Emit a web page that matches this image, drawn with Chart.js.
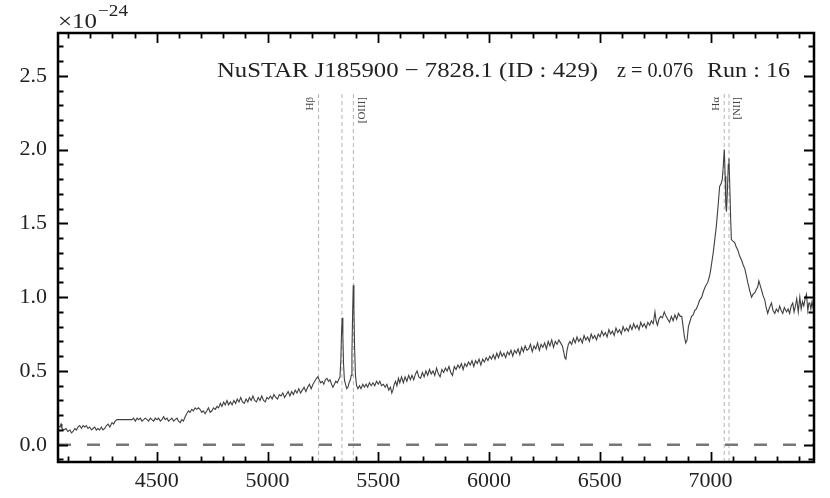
<!DOCTYPE html>
<html>
<head>
<meta charset="utf-8">
<script src="https://cdn.jsdelivr.net/npm/chart.js@4.4.1/dist/chart.umd.min.js"></script>
<style>
  html, body { margin: 0; padding: 0; background: #fff; }
</style>
</head>
<body>
<canvas id="spec" width="830" height="498"></canvas>
<script>
const wavelength = [
  4055, 4063, 4068, 4072, 4080, 4090, 4098, 4108, 4115, 4122, 4130, 4137, 4144, 4152, 4160, 4167,
  4175, 4182, 4189, 4197, 4205, 4212, 4220, 4227, 4234, 4242, 4250, 4257, 4265, 4273, 4280, 4288,
  4298, 4305, 4312, 4320, 4388, 4395, 4403, 4411, 4418, 4426, 4433, 4441, 4448, 4456, 4463, 4471,
  4478, 4486, 4493, 4501, 4508, 4516, 4523, 4531, 4538, 4546, 4553, 4561, 4568, 4576, 4583, 4591,
  4598, 4606, 4613, 4620, 4628, 4635, 4643, 4650, 4658, 4665, 4673, 4680, 4688, 4695, 4703, 4710,
  4718, 4726, 4733, 4741, 4749, 4756, 4764, 4772, 4779, 4787, 4794, 4802, 4809, 4817, 4824, 4832,
  4840, 4848, 4856, 4863, 4871, 4879, 4887, 4895, 4903, 4911, 4918, 4926, 4934, 4942, 4950, 4958,
  4966, 4974, 4982, 4990, 4997, 5005, 5013, 5021, 5029, 5037, 5045, 5053, 5061, 5069, 5077, 5085,
  5093, 5101, 5109, 5117, 5125, 5133, 5141, 5149, 5157, 5165, 5173, 5181, 5189, 5197, 5205, 5213,
  5221, 5227, 5233, 5240, 5247, 5254, 5261, 5268, 5275, 5282, 5289, 5295, 5302, 5308, 5315, 5321,
  5327, 5331, 5334, 5337, 5340, 5343, 5347, 5352, 5357, 5363, 5368, 5374, 5378, 5381, 5384, 5387,
  5390, 5393, 5397, 5402, 5408, 5415, 5422, 5430, 5437, 5445, 5452, 5460, 5468, 5476, 5484, 5492,
  5500, 5507, 5515, 5523, 5531, 5539, 5547, 5555, 5561, 5566, 5572, 5578, 5584, 5591, 5597, 5605,
  5613, 5621, 5629, 5637, 5645, 5652, 5660, 5668, 5675, 5683, 5691, 5699, 5707, 5715, 5723, 5731,
  5739, 5747, 5755, 5763, 5771, 5779, 5787, 5795, 5803, 5811, 5819, 5827, 5835, 5843, 5851, 5859,
  5867, 5875, 5883, 5891, 5899, 5907, 5915, 5923, 5931, 5939, 5947, 5955, 5963, 5971, 5979, 5987,
  5995, 6003, 6011, 6019, 6027, 6035, 6043, 6051, 6059, 6067, 6075, 6083, 6091, 6099, 6107, 6115,
  6123, 6131, 6139, 6147, 6155, 6163, 6171, 6179, 6187, 6195, 6203, 6211, 6219, 6227, 6235, 6243,
  6251, 6259, 6267, 6275, 6283, 6291, 6299, 6307, 6315, 6323, 6331, 6337, 6342, 6347, 6352, 6358,
  6365, 6373, 6381, 6389, 6397, 6405, 6413, 6421, 6429, 6437, 6445, 6453, 6461, 6469, 6477, 6485,
  6493, 6501, 6509, 6517, 6525, 6533, 6541, 6549, 6557, 6565, 6573, 6581, 6589, 6597, 6605, 6613,
  6621, 6629, 6637, 6645, 6653, 6661, 6669, 6677, 6685, 6693, 6701, 6709, 6717, 6725, 6733, 6741,
  6749, 6754, 6760, 6767, 6775, 6783, 6791, 6799, 6807, 6815, 6823, 6831, 6839, 6847, 6855, 6863,
  6870, 6876, 6882, 6888, 6894, 6900, 6906, 6914, 6921, 6929, 6936, 6944, 6951, 6960, 6968, 6976,
  6987, 6995, 7000, 7005, 7012, 7019, 7026, 7033, 7041, 7048, 7053, 7057, 7062, 7066, 7069, 7072,
  7076, 7080, 7083, 7087, 7091, 7094, 7101, 7109, 7116, 7123, 7131, 7140, 7147, 7155, 7161, 7168,
  7176, 7185, 7192, 7200, 7206, 7213, 7218, 7222, 7230, 7237, 7245, 7251, 7258, 7266, 7275, 7282,
  7290, 7297, 7305, 7312, 7319, 7326, 7333, 7343, 7350, 7357, 7364, 7371, 7377, 7383, 7389, 7396,
  7403, 7409, 7415, 7421, 7427, 7433, 7439, 7444, 7448, 7453, 7458, 7463, 7467
];
const flux = [
  0.13, 0.12, 0.14, 0.11, 0.10, 0.11, 0.09, 0.10, 0.08, 0.09, 0.11, 0.10, 0.12, 0.13, 0.11, 0.13,
  0.12, 0.13, 0.11, 0.12, 0.10, 0.11, 0.12, 0.10, 0.11, 0.10, 0.12, 0.10, 0.11, 0.13, 0.14, 0.12,
  0.15, 0.14, 0.16, 0.17, 0.17, 0.18, 0.16, 0.18, 0.17, 0.18, 0.16, 0.17, 0.18, 0.17, 0.16, 0.18,
  0.17, 0.16, 0.18, 0.17, 0.18, 0.16, 0.17, 0.19, 0.17, 0.18, 0.16, 0.17, 0.18, 0.16, 0.17, 0.18,
  0.16, 0.15, 0.17, 0.16, 0.19, 0.21, 0.23, 0.22, 0.24, 0.23, 0.25, 0.24, 0.25, 0.24, 0.22, 0.23,
  0.21, 0.23, 0.25, 0.22, 0.23, 0.25, 0.24, 0.26, 0.25, 0.28, 0.26, 0.29, 0.27, 0.30, 0.27, 0.29,
  0.27, 0.30, 0.28, 0.31, 0.29, 0.32, 0.29, 0.28, 0.31, 0.29, 0.32, 0.30, 0.33, 0.30, 0.29, 0.32,
  0.30, 0.33, 0.30, 0.29, 0.32, 0.31, 0.33, 0.31, 0.34, 0.32, 0.31, 0.34, 0.33, 0.35, 0.32, 0.34,
  0.36, 0.33, 0.36, 0.34, 0.37, 0.35, 0.38, 0.35, 0.37, 0.39, 0.36, 0.39, 0.41, 0.38, 0.41, 0.43,
  0.45, 0.46, 0.44, 0.42, 0.43, 0.41, 0.44, 0.45, 0.43, 0.44, 0.41, 0.39, 0.41, 0.43, 0.42, 0.44,
  0.46, 0.58, 0.76, 0.86, 0.74, 0.55, 0.44, 0.41, 0.38, 0.39, 0.42, 0.44, 0.47, 0.62, 0.88, 1.08,
  0.92, 0.66, 0.47, 0.40, 0.38, 0.40, 0.38, 0.41, 0.39, 0.41, 0.39, 0.42, 0.40, 0.42, 0.40, 0.43,
  0.41, 0.43, 0.40, 0.41, 0.39, 0.41, 0.37, 0.39, 0.35, 0.37, 0.41, 0.43, 0.40, 0.45, 0.42, 0.46,
  0.42, 0.46, 0.43, 0.47, 0.44, 0.47, 0.44, 0.48, 0.50, 0.46, 0.45, 0.49, 0.46, 0.50, 0.47, 0.51,
  0.48, 0.50, 0.47, 0.52, 0.48, 0.46, 0.51, 0.49, 0.52, 0.50, 0.53, 0.49, 0.47, 0.53, 0.51, 0.54,
  0.52, 0.55, 0.51, 0.55, 0.53, 0.56, 0.54, 0.57, 0.53, 0.57, 0.55, 0.58, 0.54, 0.58, 0.56, 0.59,
  0.57, 0.60, 0.58, 0.61, 0.58, 0.62, 0.59, 0.63, 0.60, 0.62, 0.59, 0.63, 0.61, 0.64, 0.60, 0.64,
  0.62, 0.65, 0.61, 0.66, 0.63, 0.67, 0.64, 0.65, 0.68, 0.63, 0.67, 0.65, 0.69, 0.64, 0.68, 0.66,
  0.69, 0.65, 0.70, 0.67, 0.71, 0.66, 0.70, 0.68, 0.71, 0.69, 0.67, 0.63, 0.59, 0.58, 0.64, 0.68,
  0.70, 0.68, 0.72, 0.69, 0.73, 0.70, 0.72, 0.69, 0.74, 0.71, 0.73, 0.70, 0.75, 0.72, 0.74, 0.71,
  0.75, 0.73, 0.77, 0.74, 0.76, 0.73, 0.78, 0.75, 0.77, 0.74, 0.79, 0.76, 0.78, 0.75, 0.80, 0.77,
  0.79, 0.77, 0.81, 0.78, 0.82, 0.79, 0.81, 0.78, 0.83, 0.80, 0.82, 0.79, 0.83, 0.81, 0.84, 0.82,
  0.90, 0.84, 0.81, 0.85, 0.87, 0.86, 0.90, 0.87, 0.85, 0.83, 0.87, 0.84, 0.88, 0.85, 0.89, 0.87,
  0.87, 0.80, 0.73, 0.69, 0.71, 0.80, 0.83, 0.87, 0.88, 0.91, 0.92, 0.95, 0.98, 1.00, 1.04, 1.07,
  1.10, 1.14, 1.18, 1.23, 1.30, 1.39, 1.48, 1.60, 1.75, 1.77, 1.80, 1.88, 2.00, 1.82, 1.62, 1.58,
  1.72, 1.90, 1.94, 1.74, 1.52, 1.39, 1.38, 1.37, 1.34, 1.32, 1.28, 1.25, 1.22, 1.19, 1.15, 1.10,
  1.05, 1.00, 1.02, 1.03, 1.05, 1.07, 1.11, 1.09, 1.05, 1.01, 0.98, 0.93, 0.89, 0.93, 0.96, 0.91,
  0.89, 0.92, 0.90, 0.94, 0.91, 0.89, 0.93, 0.90, 0.92, 0.89, 0.94, 0.96, 0.90, 0.94, 0.99, 0.90,
  1.00, 0.92, 0.97, 0.94, 0.99, 1.02, 0.91, 0.96, 0.96, 0.92, 0.97, 0.93, 0.95
];

// emission lines at z = 0.076
const lineNames = ["H\u03b2", "", "[OIII]", "H\u03b1", "[NII]"];
const lineWaves = [5230.4, 5335.9, 5387.5, 7061.8, 7083.3];
const lineTop = 2.39;

const xTickLabels = [4500, 5000, 5500, 6000, 6500, 7000];
const yTickLabels = ["0.0", "0.5", "1.0", "1.5", "2.0", "2.5"];

const sourceName = "NuSTAR J185900 \u2212 7828.1 (ID : 429)";
const redshiftText = "z = 0.076";
const runText = "Run : 16";

const xMin = 4054, xMax = 7467, yMin = -0.117, yMax = 2.79;
const serif = "'Liberation Serif', 'Times New Roman', serif";

function fitText(ctx, str, x, y, w) {
  const m = ctx.measureText(str).width;
  ctx.save();
  ctx.translate(x, y);
  ctx.scale(w / m, 1);
  ctx.fillText(str, 0, 0);
  ctx.restore();
}

// inward ticks on all four sides + frame + annotations
const framePlugin = {
  id: "frame",
  afterDraw(chart) {
    const { ctx, chartArea: a, scales: { x, y } } = chart;
    ctx.save();
    ctx.strokeStyle = "#000";
    ctx.lineWidth = 1.8;
    ctx.beginPath();
    x.ticks.forEach((t) => {
      const px = Math.round(x.getPixelForValue(t.value)) + 0.5;
      const len = t.label ? 10 : 5.5;
      ctx.moveTo(px, a.bottom); ctx.lineTo(px, a.bottom - len);
      ctx.moveTo(px, a.top); ctx.lineTo(px, a.top + len);
    });
    y.ticks.forEach((t) => {
      const py = Math.round(y.getPixelForValue(t.value)) + 0.5;
      const len = t.label ? 10 : 5.5;
      ctx.moveTo(a.left, py); ctx.lineTo(a.left + len, py);
      ctx.moveTo(a.right, py); ctx.lineTo(a.right - len, py);
    });
    ctx.stroke();
    ctx.lineWidth = 2.5;
    ctx.strokeRect(a.left, a.top, a.right - a.left, a.bottom - a.top);

    // line labels
    ctx.fillStyle = "#444";
    ctx.font = "11px " + serif;
    ctx.textAlign = "right";
    ctx.textBaseline = "middle";
    lineNames.forEach((name, i) => {
      if (!name) return;
      const side = name.startsWith("[") ? 8.5 : -8.5;
      const px = x.getPixelForValue(lineWaves[i]) + side;
      ctx.save();
      ctx.translate(px, 97);
      ctx.rotate(-Math.PI / 2);
      ctx.fillText(name, 0, 0);
      ctx.restore();
    });

    // title inside the axes
    ctx.fillStyle = "#222";
    ctx.textAlign = "left";
    ctx.textBaseline = "alphabetic";
    ctx.font = "22px " + serif;
    fitText(ctx, sourceName, 217, 77, 381);
    fitText(ctx, redshiftText, 617, 77, 76);
    fitText(ctx, runText, 707, 77, 83);

    // offset text
    fitText(ctx, "\u00d710", 58, 28, 39);
    ctx.font = "16px " + serif;
    fitText(ctx, "\u221224", 98, 16, 30);
    ctx.restore();
  }
};

const spectrum = wavelength.map((w, i) => ({ x: w, y: flux[i] }));
const lineSets = lineWaves.map((w) => ({
  data: [{ x: w, y: yMin }, { x: w, y: lineTop }],
  borderColor: "#b4b4b4",
  borderWidth: 1,
  borderDash: [4, 3],
  pointRadius: 0
}));

new Chart(document.getElementById("spec"), {
  type: "line",
  data: {
    datasets: [
      {
        data: [{ x: xMin, y: 0 }, { x: xMax, y: 0 }],
        borderColor: "#777",
        borderWidth: 2.5,
        borderDash: [13, 16],
        pointRadius: 0
      },
      {
        data: spectrum,
        borderColor: "#404040",
        borderWidth: 1.1,
        pointRadius: 0,
        tension: 0
      },
      ...lineSets
    ]
  },
  options: {
    responsive: false,
    devicePixelRatio: 1,
    animation: false,
    layout: { padding: { left: 0, right: 16, top: 33, bottom: 0 } },
    plugins: { legend: { display: false }, tooltip: { enabled: false } },
    scales: {
      x: {
        type: "linear",
        min: xMin,
        max: xMax,
        grid: { display: false, drawTicks: false },
        border: { display: false },
        ticks: {
          stepSize: 100,
          includeBounds: false,
          autoSkip: false,
          maxRotation: 0,
          padding: 6,
          color: "#222",
          font: { family: serif, size: 22 },
          callback: (v) => (xTickLabels.includes(v) ? String(v) : "")
        },
        afterFit: (s) => { s.height = 36; }
      },
      y: {
        min: yMin,
        max: yMax,
        grid: { display: false, drawTicks: false },
        border: { display: false },
        ticks: {
          stepSize: 0.1,
          includeBounds: false,
          autoSkip: false,
          padding: 11,
          color: "#222",
          font: { family: serif, size: 22 },
          callback: (v) => {
            const s = v.toFixed(1);
            return yTickLabels.includes(s) ? s : "";
          }
        },
        afterFit: (s) => { s.width = 58; }
      }
    }
  },
  plugins: [framePlugin]
});
</script>
</body>
</html>
